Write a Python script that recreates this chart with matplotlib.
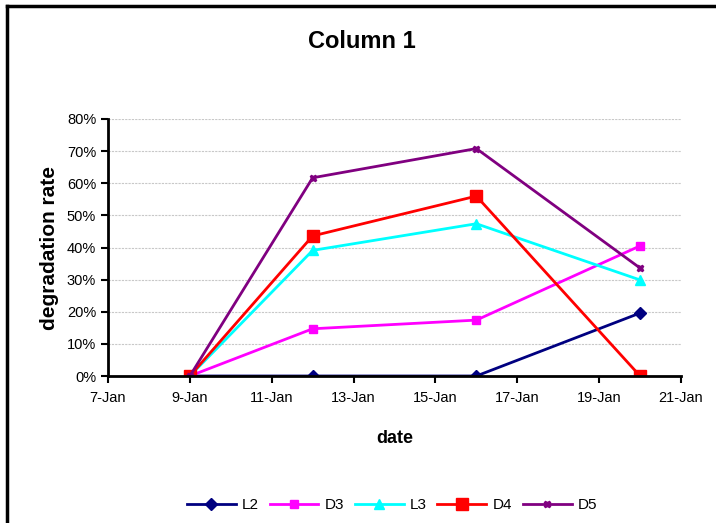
import numpy as np
import matplotlib
matplotlib.use("Agg")
import matplotlib.pyplot as plt
import matplotlib.dates as mdates
from matplotlib.lines import Line2D
from matplotlib.ticker import FuncFormatter, MultipleLocator
import datetime as dt

plt.rcParams['font.family'] = ['Liberation Sans', 'DejaVu Sans']

# data
dates = [dt.date(2009, 1, 9), dt.date(2009, 1, 12), dt.date(2009, 1, 16), dt.date(2009, 1, 20)]
L2 = [0.0, 0.0, 0.0, 0.196]
D3 = [0.0, 0.147, 0.174, 0.405]
L3 = [0.0, 0.391, 0.474, 0.299]
D4 = [0.0, 0.436, 0.560, 0.0]
D5 = [0.0, 0.617, 0.708, 0.336]

fig = plt.figure(figsize=(7.16, 5.23), dpi=100)
ax = fig.add_axes([108/716, 1-376/523, (681-108)/716, (376-119)/523])

ax.plot(dates, L2, color='#000080', lw=2, marker='D', ms=6, label='L2')
ax.plot(dates, D3, color='#FF00FF', lw=2, marker='s', ms=6, label='D3')
ax.plot(dates, L3, color='#00FFFF', lw=2, marker='^', ms=7, label='L3')
ax.plot(dates, D4, color='#FF0000', lw=2, marker='s', ms=9, label='D4')
ax.plot(dates, D5, color='#800080', lw=2, marker='X', ms=5, label='D5')

ax.set_xlim(dt.date(2009, 1, 7), dt.date(2009, 1, 21))
ax.set_ylim(0, 0.8)
ax.xaxis.set_major_locator(mdates.DayLocator(bymonthday=range(7, 22, 2)))
ax.xaxis.set_major_formatter(FuncFormatter(lambda v, p: f"{mdates.num2date(v).day}-{mdates.num2date(v):%b}"))
ax.yaxis.set_major_locator(MultipleLocator(0.1))
ax.yaxis.set_major_formatter(FuncFormatter(lambda v, p: f"{v*100:.0f}%"))

ax.grid(axis='y', color='#c8c8c8', ls=(0, (2, 1)), lw=0.8)
ax.set_axisbelow(True)
for s in ['top', 'right']:
    ax.spines[s].set_visible(False)
for s in ['left', 'bottom']:
    ax.spines[s].set_linewidth(2)
ax.tick_params(axis='both', direction='out', width=1.5, length=5, labelsize=10.5)
ax.tick_params(axis='x', pad=6)

ax.set_xlabel('date', fontsize=13, fontweight='bold', labelpad=18)
ax.set_ylabel('degradation rate', fontsize=15, fontweight='bold', labelpad=6)
fig.text(362/716, 1-42/523, 'Column 1', ha='center', va='center', fontsize=17, fontweight='bold')

fig.legend(loc='center', bbox_to_anchor=(392/716, 1-505/523), ncol=5, frameon=False,
           fontsize=11, handlelength=3.2, columnspacing=0.7, handletextpad=0.4)

fig.add_artist(Line2D([7/716, 7/716], [0, 1-6/523], color='black', lw=2.5, transform=fig.transFigure))
fig.add_artist(Line2D([7/716, 1], [1-6/523, 1-6/523], color='black', lw=2.5, transform=fig.transFigure))

fig.savefig('out.png', dpi=100)
